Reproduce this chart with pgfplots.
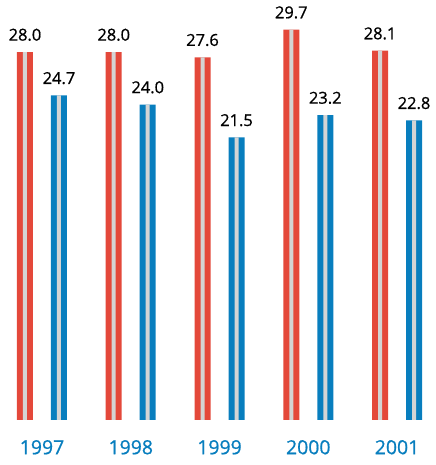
\documentclass[border=0pt]{standalone}
\usepackage{fontspec}
\setmainfont{Open Sans}
\newfontfamily\labelfont[FakeBold=0.8]{Open Sans}
\usepackage{pgfplots}
\pgfplotsset{compat=1.18}
\definecolor{barred}{RGB}{228, 72, 58}
\definecolor{barblue}{RGB}{8, 126, 190}
\definecolor{stripe}{RGB}{212, 212, 212}

\pgfplotstableread{
year red blue
1997 28.0 24.7
1998 28.0 24.0
1999 27.6 21.5
2000 29.7 23.2
2001 28.1 22.8
}\datatable

\begin{document}
\begin{tikzpicture}
  \begin{axis}[
    scale only axis,
    width=436bp, height=465bp,
    xmin=1996.527, xmax=2001.439,
    ymin=-3.425, ymax=31.96,
    ybar, bar width=16bp,
    axis line style={draw=none},
    tick style={draw=none},
    ytick=\empty,
    xtick={1997,1998,1999,2000,2001},
    xticklabels={1997,1998,1999,2000,2001},
    xticklabel style={anchor=center, yshift=22bp, inner sep=0pt,
      text=barblue, font=\labelfont\fontsize{19.5}{20}\selectfont},
    /pgf/number format/assume math mode=true,
    /pgf/number format/.cd, fixed, fixed zerofill, precision=1, /pgfplots/.cd,
    every node near coord/.append style={font=\labelfont\fontsize{16.5}{17}\selectfont,
      text=black, inner sep=0pt, anchor=south, yshift=11bp},
    clip=false,
  ]
    \addplot[draw=none, fill=barred, bar shift=-17bp, nodes near coords] table[x=year, y=red] {\datatable};
    \addplot[draw=none, fill=stripe, bar width=4bp, bar shift=-17bp] table[x=year, y=red] {\datatable};
    \addplot[draw=none, fill=barblue, bar shift=17bp, nodes near coords] table[x=year, y=blue] {\datatable};
    \addplot[draw=none, fill=stripe, bar width=4bp, bar shift=17bp] table[x=year, y=blue] {\datatable};
  \end{axis}
  \pgfresetboundingbox
  \path (0,0) rectangle (436bp,465bp);
\end{tikzpicture}
\end{document}
